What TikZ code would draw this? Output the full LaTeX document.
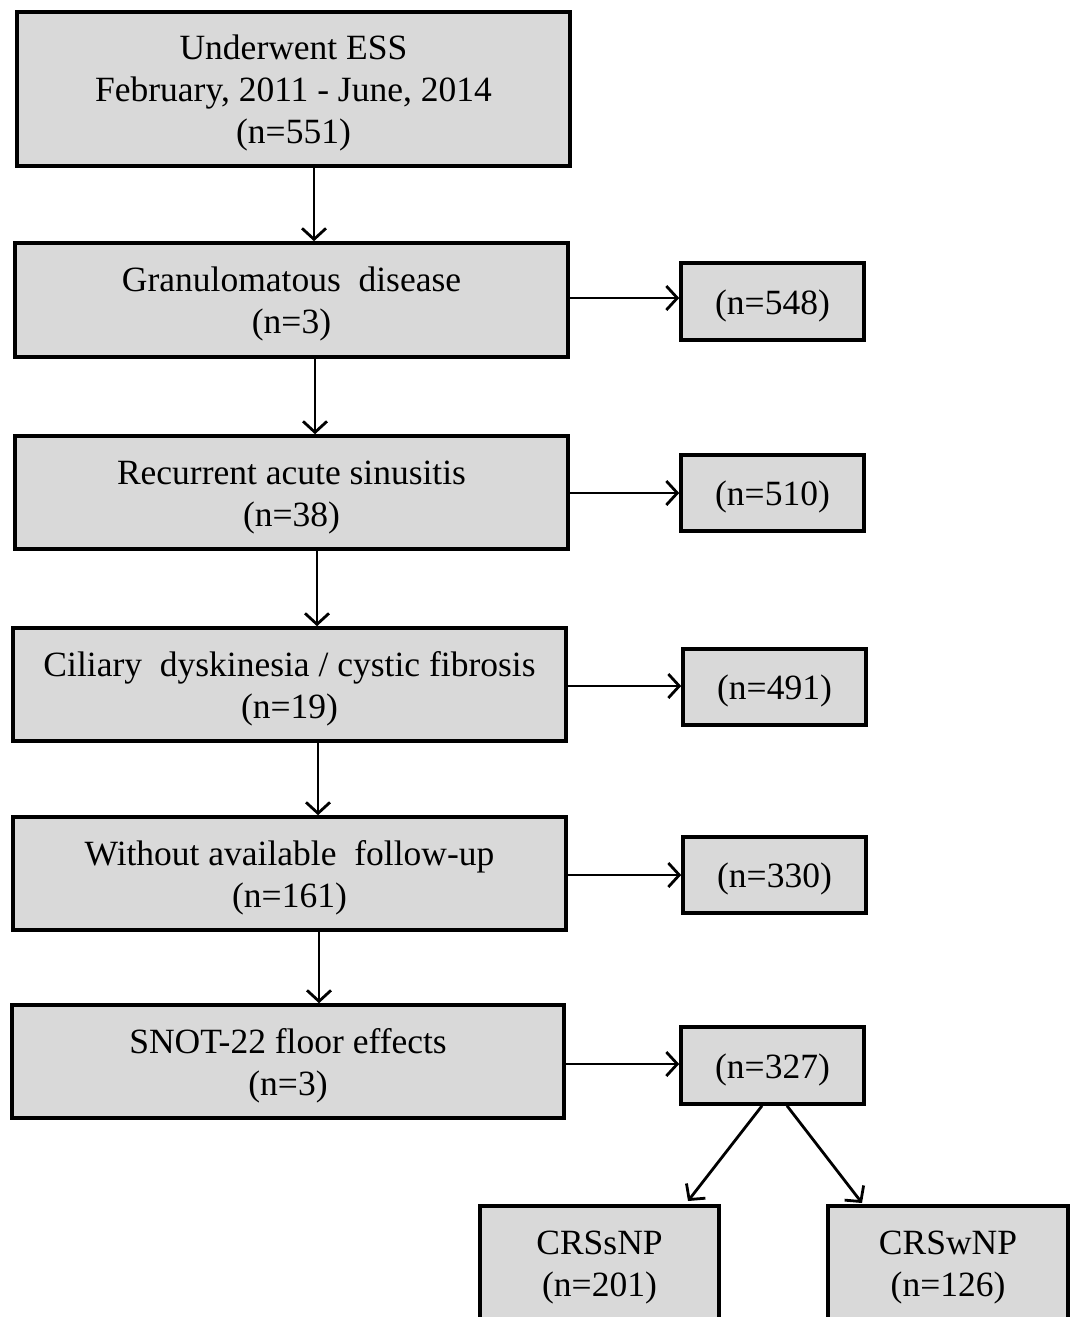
\documentclass[tikz,border=0pt]{standalone}
\usepackage{fontspec}
\setmainfont{Liberation Serif}
\usetikzlibrary{arrows.meta}
\definecolor{boxgray}{RGB}{217,217,217}
\newcommand{\tstrut}{\rule{0pt}{33pt}}
\tikzset{
  flowbox/.style={draw=black, line width=3.6pt, fill=boxgray, inner sep=0pt, align=center,
    font=\fontsize{35.5}{42}\selectfont},
  arr/.style={line width=2.8pt, -{Straight Barb[length=11pt,width=24pt,line width=2.8pt]}}
}
\begin{document}
\begin{tikzpicture}[x=1pt,y=-1pt]
\useasboundingbox (0,0) rectangle (1070,1317);
\fill[white] (0,0) rectangle (1070,1317);
% left column
\node[flowbox, minimum width=553pt, minimum height=154pt] (b1) at (293.5,89) {\tstrut Underwent ESS\\February, 2011 - June, 2014\\(n=551)};
\node[flowbox, minimum width=553pt, minimum height=114pt] (b2) at (291.5,300) {\tstrut Granulomatous\ \ disease\\(n=3)};
\node[flowbox, minimum width=553pt, minimum height=113pt] (b3) at (291.5,492.5) {\tstrut Recurrent acute sinusitis\\(n=38)};
\node[flowbox, minimum width=553pt, minimum height=113pt] (b4) at (289.5,684.5) {\tstrut Ciliary\ \ dyskinesia / cystic fibrosis\\(n=19)};
\node[flowbox, minimum width=553pt, minimum height=113pt] (b5) at (289.5,873.5) {\tstrut Without available\ \ follow-up\\(n=161)};
\node[flowbox, minimum width=552pt, minimum height=113pt] (b6) at (288,1061.5) {\tstrut SNOT-22 floor effects\\(n=3)};
% right column
\node[flowbox, minimum width=183pt, minimum height=77pt] (r1) at (772.5,301.5) {\tstrut(n=548)};
\node[flowbox, minimum width=183pt, minimum height=76pt] (r2) at (772.5,493) {\tstrut(n=510)};
\node[flowbox, minimum width=183pt, minimum height=76pt] (r3) at (774.5,687) {\tstrut(n=491)};
\node[flowbox, minimum width=183pt, minimum height=76pt] (r4) at (774.5,875) {\tstrut(n=330)};
\node[flowbox, minimum width=183pt, minimum height=77pt] (r5) at (772.5,1065.5) {\tstrut(n=327)};
% bottom
\node[flowbox, minimum width=239pt, minimum height=113pt] (s1) at (599.5,1262.5) {\tstrut CRSsNP\\(n=201)};
\node[flowbox, minimum width=240pt, minimum height=113pt] (s2) at (948,1262.5) {\tstrut CRSwNP\\(n=126)};
% vertical arrows
\draw[arr] (b1.south -| 314,0) -- (b2.north -| 314,0);
\draw[arr] (b2.south -| 315,0) -- (b3.north -| 315,0);
\draw[arr] (b3.south -| 317,0) -- (b4.north -| 317,0);
\draw[arr] (b4.south -| 318,0) -- (b5.north -| 318,0);
\draw[arr] (b5.south -| 319,0) -- (b6.north -| 319,0);
% horizontal arrows
\draw[arr] (b2.east |- 0,298) -- (r1.west |- 0,298);
\draw[arr] (b3.east |- 0,493) -- (r2.west |- 0,493);
\draw[arr] (b4.east |- 0,686) -- (r3.west |- 0,686);
\draw[arr] (b5.east |- 0,875) -- (r4.west |- 0,875);
\draw[arr] (b6.east |- 0,1064) -- (r5.west |- 0,1064);
% split arrows
\draw[arr] (r5.south -| 762,0) -- (688,1201);
\draw[arr] (r5.south -| 787,0) -- (862,1203);
\end{tikzpicture}
\end{document}
